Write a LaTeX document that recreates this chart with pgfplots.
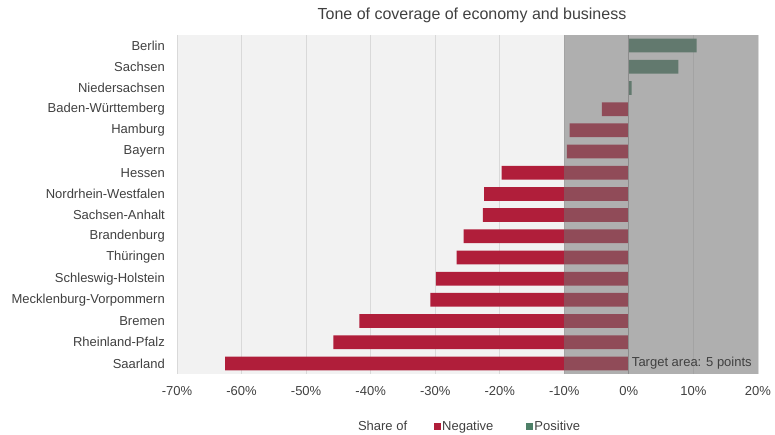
\documentclass[border=0pt]{standalone}
\usepackage{pgfplots}
\pgfplotsset{compat=1.18}
\usepackage{fontspec}
\setmainfont{Liberation Sans}
\definecolor{negc}{HTML}{B01E3A}
\definecolor{posc}{HTML}{4E8068}
\definecolor{txt}{HTML}{404040}
\definecolor{bg}{HTML}{F2F2F2}
\definecolor{grd}{HTML}{D9D9D9}
\definecolor{ov}{HTML}{747474}
\begin{document}
\begin{tikzpicture}
\useasboundingbox (0,0) rectangle (775bp,435bp);
\begin{axis}[
  at={(177bp,61bp)}, anchor=south west,
  scale only axis, width=581bp, height=339bp,
  xmin=-70, xmax=20, ymin=-0.5, ymax=15.5,
  y dir=reverse,
  axis line style={draw=none},
  axis background/.style={fill=bg},
  major tick length=0pt,
  xmajorgrids, grid style={grd, line width=0.8bp},
  xtick={-70,-60,...,20},
  xticklabels={-70\%,-60\%,-50\%,-40\%,-30\%,-20\%,-10\%,0\%,10\%,20\%},
  ytick={0,...,15},
  yticklabels={Berlin,Sachsen,Niedersachsen,Baden-Württemberg,Hamburg,Bayern,Hessen,Nordrhein-Westfalen,Sachsen-Anhalt,Brandenburg,Thüringen,Schleswig-Holstein,Mecklenburg-Vorpommern,Bremen,Rheinland-Pfalz,Saarland},
  tick label style={font=\fontsize{13bp}{15bp}\selectfont, text=txt},
  xticklabel style={anchor=base, yshift=-21bp, inner sep=0pt},
  yticklabel style={anchor=east, xshift=-12bp, inner sep=0pt},
  legend columns=-1,
  legend style={at={(0.3035,-0.156)}, anchor=west, draw=none, fill=none,
    font=\fontsize{13bp}{15bp}\selectfont, text=txt,
    /tikz/column 2/.style={column sep=25bp},
    /tikz/column 4/.style={column sep=31bp},
    nodes={inner sep=1.5bp}},
  clip=false,
]
\addlegendimage{empty legend}
\addlegendentry{Share of}
\addplot[xbar, bar width=13.7bp, bar shift=0pt, fill=negc, draw=none,
  legend image code/.code={\fill[negc] (0bp,-3.5bp) rectangle (7bp,3.5bp);}]
  coordinates {(-4.17,3) (-9.17,4) (-9.59,5) (-19.7,6) (-22.44,7) (-22.6,8) (-25.59,9) (-26.67,10) (-29.88,11) (-30.75,12) (-41.76,13) (-45.79,14) (-62.56,15)};
\addlegendentry{Negative}
\addplot[xbar, bar width=13.7bp, bar shift=0pt, fill=posc, draw=none,
  legend image code/.code={\fill[posc] (0bp,-3.5bp) rectangle (7bp,3.5bp);}]
  coordinates {(10.5,0) (7.65,1) (0.43,2)};
\addlegendentry{Positive}
\fill[ov, opacity=0.53] (axis cs:-10,-0.5) rectangle (axis cs:20,15.5);
\draw[color=black!45, line width=0.8bp] (axis cs:0,-0.5) -- (axis cs:0,15.5);
\node[anchor=west, inner sep=0pt, text=txt, font=\fontsize{13bp}{15bp}\selectfont] at (axis cs:0.45,15) {Target area: 5 points};
\end{axis}
\node[anchor=base, text=txt, font=\fontsize{16bp}{19bp}\selectfont] at (472bp,415bp) {Tone of coverage of economy and business};
\end{tikzpicture}
\end{document}
